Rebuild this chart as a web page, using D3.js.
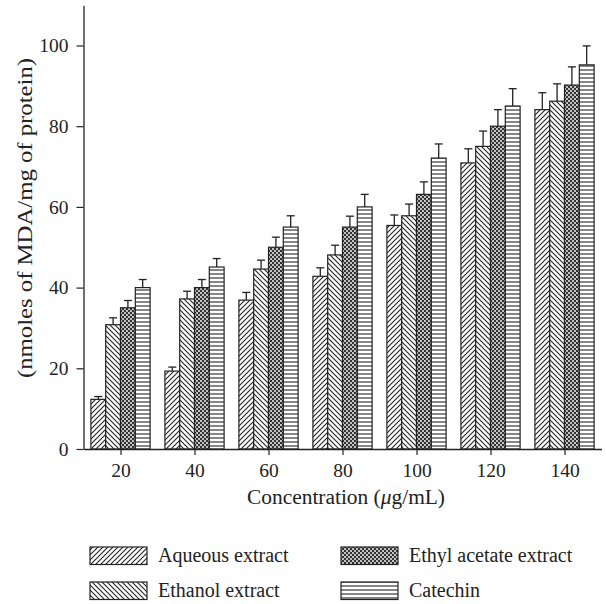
<!DOCTYPE html>
<html><head><meta charset="utf-8">
<script src="https://cdn.jsdelivr.net/npm/d3@7"></script>
<style>body{margin:0;background:#fff}svg{display:block}text{font-family:"Liberation Serif","DejaVu Serif",serif;fill:#222}</style>
</head><body>
<script>
const concentrations = [20, 40, 60, 80, 100, 120, 140];
const seriesNames = ["Aqueous extract", "Ethanol extract", "Ethyl acetate extract", "Catechin"];
const aqueous = [12.3, 19.3, 36.9, 42.8, 55.4, 70.9, 84.1];
const ethanol = [30.8, 37.2, 44.6, 48.1, 57.8, 75.0, 86.2];
const ethylAcetate = [35.0, 40.0, 50.0, 55.0, 63.1, 80.0, 90.2];
const catechin = [40.0, 45.1, 55.0, 60.0, 72.1, 85.0, 95.2];
const aqueousErr = [0.7, 1.0, 1.9, 2.1, 2.6, 3.5, 4.2];
const ethanolErr = [1.7, 1.9, 2.2, 2.4, 2.9, 3.8, 4.3];
const ethylAcetateErr = [1.8, 2.0, 2.5, 2.7, 3.1, 4.1, 4.5];
const catechinErr = [2.0, 2.1, 2.8, 3.1, 3.5, 4.3, 4.7];
const yTicks = [0, 20, 40, 60, 80, 100];
const xTicks = [20, 40, 60, 80, 100, 120, 140];

const values = [aqueous, ethanol, ethylAcetate, catechin];
const errs = [aqueousErr, ethanolErr, ethylAcetateErr, catechinErr];
const patIds = ["pAq", "pEt", "pEa", "pCa"];

const W = 606, H = 604;
const svg = d3.select("body").append("svg").attr("width", W).attr("height", H);
const defs = svg.append("defs");

function makePattern(id, size, drawFn) {
  const p = defs.append("pattern").attr("id", id).attr("patternUnits", "userSpaceOnUse")
    .attr("width", size).attr("height", size);
  p.append("rect").attr("width", size).attr("height", size).attr("fill", "#fff");
  drawFn(p, size);
}
makePattern("pAq", 5, (p, s) => {
  p.append("path").attr("d", `M0,${s} L${s},0 M${-s/2},${s/2} L${s/2},${-s/2} M${s/2},${s*1.5} L${s*1.5},${s/2}`)
    .attr("stroke", "#222").attr("stroke-width", 1.1);
});
makePattern("pEt", 5, (p, s) => {
  p.append("path").attr("d", `M0,0 L${s},${s} M${-s/2},${s/2} L${s/2},${s*1.5} M${s/2},${-s/2} L${s*1.5},${s/2}`)
    .attr("stroke", "#222").attr("stroke-width", 1.1);
});
makePattern("pEa", 4, (p, s) => {
  p.append("rect").attr("width", s).attr("height", s).attr("fill", "#333");
  p.append("circle").attr("cx", 1).attr("cy", 1).attr("r", 0.95).attr("fill", "#fff");
  p.append("circle").attr("cx", 3).attr("cy", 3).attr("r", 0.95).attr("fill", "#fff");
});
makePattern("pCa", 4, (p, s) => {
  p.append("path").attr("d", `M0,2 L${s},2`).attr("stroke", "#222").attr("stroke-width", 1.1);
});

const x = d3.scaleLinear().domain([10, 150]).range([83.5, 601.5]);
const y = d3.scaleLinear().domain([0, 110]).range([449, 449 - 110 * 4.035]);
const barW = 4;

const g = svg.append("g");
seriesNames.forEach((name, si) => {
  concentrations.forEach((c, ci) => {
    const x0 = x(c - 2 * barW + si * barW), x1 = x(c - 2 * barW + (si + 1) * barW);
    const v = values[si][ci], e = errs[si][ci];
    const cx = (x0 + x1) / 2;
    g.append("line").attr("x1", cx).attr("x2", cx).attr("y1", y(v)).attr("y2", y(v + e))
      .attr("stroke", "#222").attr("stroke-width", 1.3);
    g.append("line").attr("x1", cx - 4).attr("x2", cx + 4).attr("y1", y(v + e)).attr("y2", y(v + e))
      .attr("stroke", "#222").attr("stroke-width", 1.3);
    g.append("rect").attr("x", x0).attr("width", x1 - x0).attr("y", y(v)).attr("height", y(0) - y(v))
      .attr("fill", `url(#${patIds[si]})`).attr("stroke", "#222").attr("stroke-width", 1.2);
  });
});

const tickFont = "19.5px";
const yAxisG = svg.append("g").attr("transform", `translate(${x(10)},0)`);
yAxisG.call(d3.axisLeft(y).tickValues(d3.range(10, 111, 20)).tickSize(3.5).tickFormat("").tickSizeOuter(0));
yAxisG.call(d3.axisLeft(y).tickValues(yTicks).tickSize(7).tickPadding(8).tickSizeOuter(0));
yAxisG.selectAll("path.domain").attr("stroke", "#222").attr("stroke-width", 1.3);
yAxisG.selectAll(".tick line").attr("stroke", "#222").attr("stroke-width", 1.2);
yAxisG.selectAll(".tick text").style("font-size", tickFont).attr("fill", "#222");

const xAxisG = svg.append("g").attr("transform", `translate(0,${y(0)})`);
xAxisG.call(d3.axisBottom(x).tickValues(d3.range(30, 160, 20)).tickSize(3.5).tickFormat("").tickSizeOuter(0));
xAxisG.call(d3.axisBottom(x).tickValues(xTicks).tickSize(6).tickPadding(8).tickSizeOuter(0));
xAxisG.selectAll("path.domain").attr("stroke", "#222").attr("stroke-width", 1.3);
xAxisG.selectAll(".tick line").attr("stroke", "#222").attr("stroke-width", 1.2);
xAxisG.selectAll(".tick text").style("font-size", tickFont).attr("fill", "#222");

const xt = svg.append("text").attr("x", 346).attr("y", 504).attr("text-anchor", "middle")
  .style("font-size", "20px").attr("textLength", 198).attr("lengthAdjust", "spacingAndGlyphs");
xt.append("tspan").text("Concentration (");
xt.append("tspan").attr("font-style", "italic").text("μ");
xt.append("tspan").text("g/mL)");

svg.append("text").attr("transform", "translate(32,218) rotate(-90)").attr("text-anchor", "middle")
  .style("font-size", "21.5px").attr("textLength", 320).attr("lengthAdjust", "spacingAndGlyphs")
  .text("(nmoles of MDA/mg of protein)");

const legendPos = [[90, 547], [90, 582], [341, 547], [341, 582]];
seriesNames.forEach((name, si) => {
  const [lx, ly] = legendPos[si];
  svg.append("rect").attr("x", lx).attr("y", ly).attr("width", 57).attr("height", 17.5)
    .attr("fill", `url(#${patIds[si]})`).attr("stroke", "#222").attr("stroke-width", 1.2);
  svg.append("text").attr("x", lx + 68).attr("y", ly + 14.5).style("font-size", "20px").text(name);
});
</script>
</body></html>
